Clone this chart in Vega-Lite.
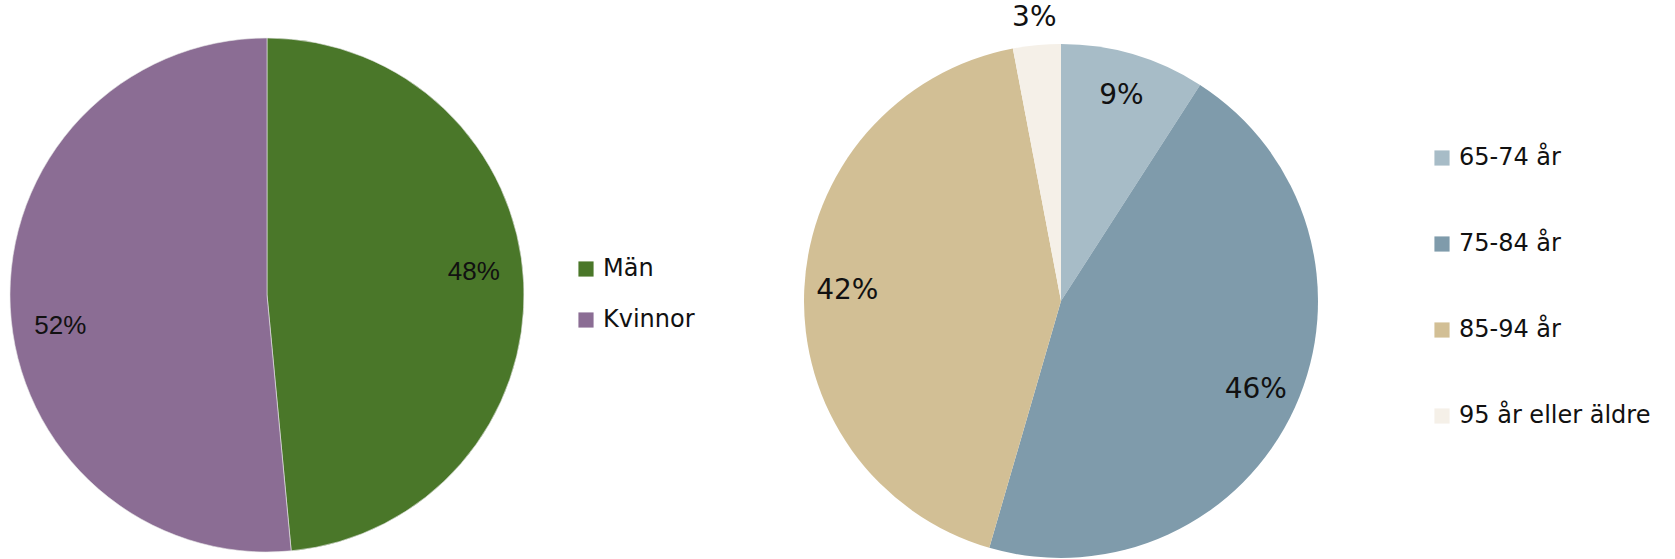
{
  "$schema": "https://vega.github.io/schema/vega-lite/v6.json",
  "padding": 0,
  "background": "white",
  "spacing": 82,
  "config": {"view": {"stroke": null}},
  "resolve": {"scale": {"color": "independent", "theta": "independent"}},
  "hconcat": [
    {
      "width": 534,
      "height": 590,
      "data": {"values": [
        {"kat": "Män", "andel": 48.5, "etikett": "48%", "ord": 1},
        {"kat": "Kvinnor", "andel": 51.5, "etikett": "52%", "ord": 2}
      ]},
      "encoding": {
        "theta": {"field": "andel", "type": "quantitative", "stack": true},
        "order": {"field": "ord", "type": "ordinal"}
      },
      "layer": [
        {
          "mark": {"type": "arc", "outerRadius": 257, "stroke": "#e8e8e8", "strokeWidth": 0.6},
          "encoding": {
            "color": {
              "field": "kat", "type": "nominal",
              "scale": {"domain": ["Män", "Kvinnor"], "range": ["#4a7729", "#8b6d94"]},
              "legend": {
                "title": null, "orient": "none", "legendX": 574, "legendY": 257,
                "symbolType": "square", "symbolSize": 230, "symbolStrokeWidth": 0,
                "labelFont": "DejaVu Sans", "labelFontSize": 24, "labelColor": "#111111",
                "rowPadding": 27, "labelOffset": 5, "labelLimit": 400
              }
            }
          }
        },
        {
          "mark": {"type": "text", "radius": 207, "dy": -13, "font": "Liberation Sans", "fontSize": 26, "color": "#111111"},
          "encoding": {"text": {"condition": {"test": "datum.kat === 'Män'", "field": "etikett"}, "value": ""}}
        },
        {
          "mark": {"type": "text", "radius": 207, "dy": 21, "font": "Liberation Sans", "fontSize": 26, "color": "#111111"},
          "encoding": {"text": {"condition": {"test": "datum.kat === 'Kvinnor'", "field": "etikett"}, "value": ""}}
        }
      ]
    },
    {
      "width": 534,
      "height": 602,
      "data": {"values": [
        {"kat": "65-74 år", "andel": 9.1, "etikett": "9%", "ord": 1},
        {"kat": "75-84 år", "andel": 45.4, "etikett": "46%", "ord": 2},
        {"kat": "85-94 år", "andel": 42.5, "etikett": "42%", "ord": 3},
        {"kat": "95 år eller äldre", "andel": 3.0, "etikett": "3%", "ord": 4}
      ]},
      "encoding": {
        "theta": {"field": "andel", "type": "quantitative", "stack": true},
        "order": {"field": "ord", "type": "ordinal"}
      },
      "layer": [
        {
          "mark": {"type": "arc", "outerRadius": 257},
          "encoding": {
            "color": {
              "field": "kat", "type": "nominal",
              "scale": {"domain": ["65-74 år", "75-84 år", "85-94 år", "95 år eller äldre"], "range": ["#a7bcc7", "#7f9bab", "#d2bf95", "#f5f0e8"]},
              "legend": {
                "title": null, "orient": "none", "legendX": 636, "legendY": 146,
                "symbolType": "square", "symbolSize": 230, "symbolStrokeWidth": 0,
                "labelFont": "DejaVu Sans", "labelFontSize": 24, "labelColor": "#111111",
                "rowPadding": 62, "labelOffset": 5, "labelLimit": 400
              }
            }
          }
        },
        {
          "mark": {"type": "text", "radius": 214, "font": "DejaVu Sans", "fontSize": 28, "color": "#111111"},
          "encoding": {"text": {"condition": {"test": "datum.andel >= 5", "field": "etikett"}, "value": ""}}
        },
        {
          "mark": {"type": "text", "radius": 284, "font": "DejaVu Sans", "fontSize": 28, "color": "#111111"},
          "encoding": {"text": {"condition": {"test": "datum.andel < 5", "field": "etikett"}, "value": ""}}
        }
      ]
    }
  ]
}
